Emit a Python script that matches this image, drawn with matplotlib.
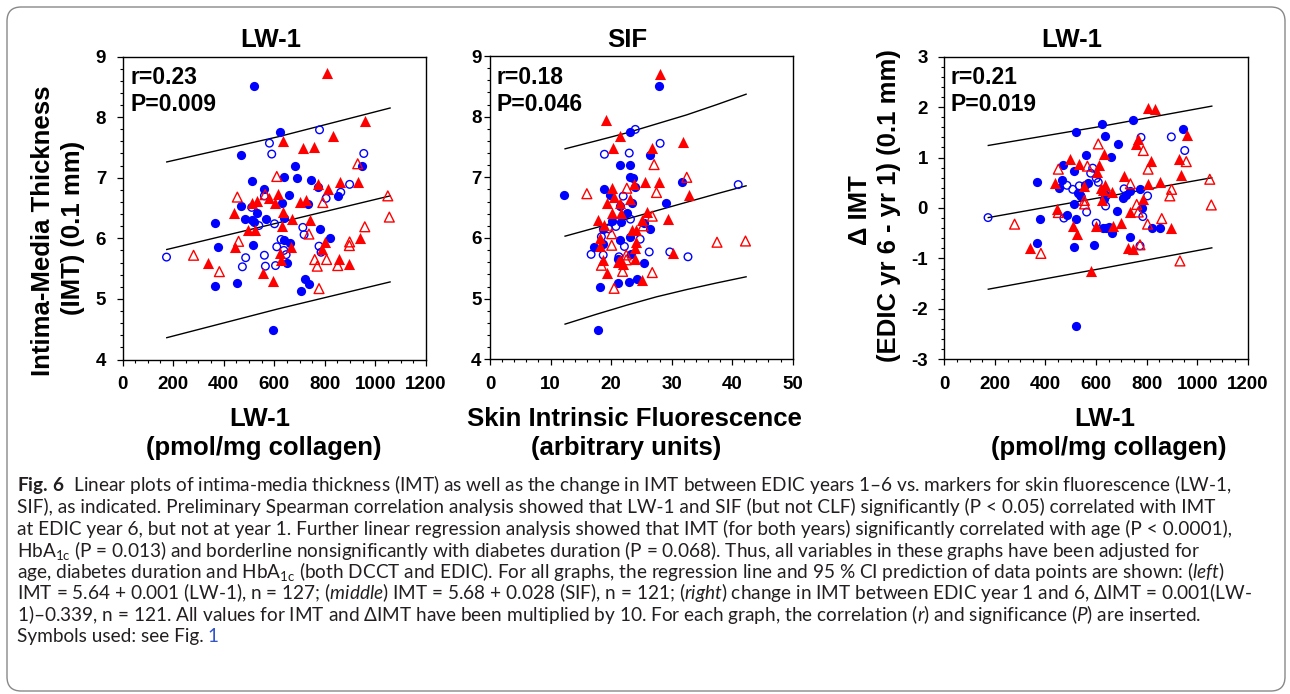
import matplotlib
matplotlib.use("Agg")
import matplotlib.pyplot as plt
from matplotlib.patches import FancyBboxPatch
from matplotlib.ticker import MultipleLocator

# ---- data ----
# panel 1: IMT vs LW-1
p1_fc_x = [520, 624, 468, 682, 638, 688, 512, 746, 560, 657, 468, 531, 632, 947, 852, 512, 520, 483,
           569, 638, 365, 377, 515, 640, 663, 782, 822, 652, 367, 454, 723, 736, 707, 594, 773, 735]
p1_fc_y = [8.52, 7.76, 7.37, 7.20, 7.01, 7.00, 6.94, 6.97, 6.81, 6.72, 6.54, 6.42, 6.59, 7.20, 6.70, 6.30,
           6.27, 6.32, 6.32, 6.33, 6.26, 5.86, 5.89, 5.98, 5.92, 6.16, 6.00, 5.59, 5.21, 5.27, 5.33, 5.25,
           5.13, 4.48, 6.85, 6.57]
p1_oc_x = [779, 581, 590, 954, 898, 863, 805, 561, 511, 539, 601, 713, 718, 627, 610, 638, 647, 777,
           785, 561, 487, 474, 565, 605, 174]
p1_oc_y = [7.79, 7.57, 7.39, 7.40, 6.89, 6.76, 6.66, 6.70, 6.51, 6.21, 6.24, 6.18, 6.06, 5.98, 5.86,
           5.80, 5.73, 5.87, 5.77, 5.72, 5.68, 5.53, 5.54, 5.55, 5.69]
p1_ft_x = [807, 959, 833, 634, 713, 756, 773, 811, 859, 930, 614, 581, 602, 635, 531, 511, 439, 631,
           671, 700, 727, 742, 498, 523, 445, 340, 557, 597, 623, 627, 668, 788, 802, 856, 897, 939]
p1_ft_y = [8.72, 7.94, 7.68, 7.60, 7.49, 7.50, 6.89, 6.82, 6.93, 6.93, 6.73, 6.67, 6.58, 6.44, 6.61,
           6.58, 6.42, 6.21, 6.32, 6.60, 6.63, 6.31, 6.14, 6.14, 5.86, 5.59, 5.43, 5.29, 5.75, 5.65,
           5.86, 5.82, 5.94, 5.66, 5.57, 6.01]
p1_ot_x = [610, 454, 564, 792, 1049, 1055, 958, 737, 459, 281, 383, 760, 770, 807, 851, 897, 898, 777, 930]
p1_ot_y = [7.02, 6.68, 6.72, 6.59, 6.70, 6.35, 6.19, 6.07, 5.95, 5.72, 5.45, 5.65, 5.54, 5.65, 5.55,
           5.88, 5.94, 5.17, 7.23]
p1_band_x = [175, 615, 1058]
p1_fit = [5.815, 6.255, 6.70]
p1_upper = [7.26, 7.675, 8.15]
p1_lower = [4.36, 4.835, 5.28]

# panel 2: IMT vs SIF
p2_fc_x = [27.9, 23.1, 21.4, 23.2, 26.5, 23.2, 23.7, 23.9, 31.7, 29.0, 12.3, 18.8, 19.9, 21.4, 23.4,
           22.6, 21.7, 20.1, 18.6, 25.4, 26.5, 23.2, 21.4, 18.6, 17.2, 21.1, 23.3, 25.5, 24.3, 21.1,
           22.9, 18.2, 17.8]
p2_fc_y = [8.51, 7.75, 7.20, 7.20, 7.36, 7.00, 6.99, 6.84, 6.93, 6.58, 6.71, 6.81, 6.71, 6.53, 6.58,
           6.41, 6.26, 6.28, 6.15, 6.25, 6.15, 6.01, 5.96, 5.90, 5.85, 5.65, 5.73, 5.58, 5.33, 5.25,
           5.27, 5.20, 4.48]
p2_oc_x = [24.0, 28.1, 18.9, 23.0, 22.0, 41.0, 20.8, 19.6, 23.2, 24.8, 22.2, 26.3, 29.7, 32.7, 16.7,
           18.7, 21.3, 18.4]
p2_oc_y = [7.79, 7.56, 7.38, 7.40, 6.69, 6.88, 6.19, 6.15, 6.31, 5.98, 5.86, 5.77, 5.77, 5.69, 5.73,
           5.72, 5.69, 6.02]
p2_ft_x = [28.1, 19.2, 21.5, 20.3, 26.8, 31.8, 25.6, 27.9, 32.9, 23.8, 20.2, 20.5, 19.3, 21.4, 23.2,
           20.1, 21.7, 25.9, 25.1, 29.4, 17.9, 18.8, 23.5, 24.1, 18.2, 18.1, 24.1, 24.0, 30.2, 18.6,
           21.5, 23.9, 19.3, 25.1, 22.0, 21.2]
p2_ft_y = [8.71, 7.94, 7.68, 7.49, 7.48, 7.59, 6.93, 6.92, 6.71, 6.89, 6.82, 6.68, 6.58, 6.58, 6.64,
           6.42, 6.41, 6.43, 6.30, 6.31, 6.29, 6.21, 6.13, 6.13, 6.00, 5.86, 5.94, 5.83, 5.75, 5.64,
           5.63, 5.65, 5.43, 5.30, 5.57, 5.61]
p2_ot_x = [27.1, 22.6, 27.5, 32.5, 16.0, 26.8, 25.3, 20.1, 20.1, 37.5, 42.2, 22.5, 22.5, 21.9, 18.4,
           26.8, 20.5]
p2_ot_y = [7.21, 6.82, 6.75, 7.00, 6.73, 6.36, 6.20, 6.07, 5.88, 5.93, 5.95, 5.72, 5.64, 5.45, 5.55,
           5.43, 5.17]
p2_band_x = [12.4, 17.5, 22.5, 27.5, 32.5, 37.5, 42.3]
p2_fit = [6.03, 6.17, 6.31, 6.45, 6.59, 6.73, 6.86]
p2_upper = [7.47, 7.60, 7.73, 7.88, 8.03, 8.20, 8.37]
p2_lower = [4.58, 4.74, 4.89, 5.03, 5.15, 5.26, 5.36]

# panel 3: delta IMT vs LW-1
p3_fc_x = [520, 624, 636, 745, 946, 687, 559, 658, 468, 512, 365, 454, 467, 568, 558, 529, 537, 514,
           640, 631, 705, 717, 735, 773, 783, 682, 484, 377, 522, 626, 640, 650, 662, 820, 852, 735,
           365, 514, 593, 520]
p3_fc_y = [1.50, 1.66, 1.43, 1.74, 1.57, 1.26, 1.06, 1.02, 0.85, 0.73, 0.51, 0.40, 0.55, 0.49, 0.45,
           0.30, 0.26, 0.07, 0.26, 0.18, 0.20, 0.26, 0.34, 0.38, 0.00, -0.05, -0.13, -0.21, -0.21,
           -0.40, -0.40, -0.38, -0.50, -0.40, -0.40, -0.58, -0.69, -0.77, -0.73, -2.33]
p3_oc_x = [173, 778, 898, 951, 587, 579, 601, 609, 485, 508, 534, 542, 563, 473, 601, 638, 711, 804, 785, 774]
p3_oc_y = [-0.19, 1.40, 1.41, 1.14, 0.79, 0.69, 0.59, 0.51, 0.45, 0.37, 0.44, 0.22, -0.08, -0.20,
           -0.30, 0.04, 0.38, 0.24, -0.17, -0.75]
p3_ft_x = [804, 833, 959, 768, 760, 496, 533, 610, 603, 632, 819, 928, 936, 711, 439, 554, 634, 620,
           625, 663, 804, 855, 786, 447, 508, 524, 599, 666, 700, 736, 725, 745, 897, 339, 579, 629]
p3_ft_y = [1.99, 1.96, 1.45, 1.36, 1.26, 0.97, 0.87, 0.85, 0.72, 1.08, 0.93, 0.98, 0.66, 0.64, 0.50,
           0.44, 0.46, 0.39, 0.16, 0.31, 0.47, 0.52, 0.17, -0.02, -0.36, -0.52, -0.36, -0.36, -0.30,
           -0.08, -0.80, -0.82, -0.40, -0.80, -1.25, 0.35]
p3_ot_x = [609, 787, 806, 451, 566, 736, 554, 555, 761, 767, 804, 860, 899, 892, 957, 1050, 1056, 278,
           382, 451, 774, 932, 640]
p3_ot_y = [1.27, 1.14, 0.77, 0.77, 0.83, 0.48, 0.15, 0.08, 0.07, -0.08, -0.32, -0.21, 0.37, 0.24,
           0.92, 0.57, 0.06, -0.32, -0.90, -0.09, -0.73, -1.05, 0.36]
p3_band_x = [174, 616, 1058]
p3_fit = [-0.19, 0.205, 0.60]
p3_upper = [1.24, 1.615, 2.02]
p3_lower = [-1.61, -1.205, -0.79]

caption_lines = [
    r"$\mathbf{Fig.\,6}$  Linear plots of intima-media thickness (IMT) as well as the change in IMT between EDIC years 1–6 vs. markers for skin fluorescence (LW-1,",
    "SIF), as indicated. Preliminary Spearman correlation analysis showed that LW-1 and SIF (but not CLF) significantly (P < 0.05) correlated with IMT",
    "at EDIC year 6, but not at year 1. Further linear regression analysis showed that IMT (for both years) significantly correlated with age (P < 0.0001),",
    r"HbA$_{\mathrm{1c}}$ (P = 0.013) and borderline nonsignificantly with diabetes duration (P = 0.068). Thus, all variables in these graphs have been adjusted for",
    r"age, diabetes duration and HbA$_{\mathrm{1c}}$ (both DCCT and EDIC). For all graphs, the regression line and 95 % CI prediction of data points are shown: ($\mathit{left}$)",
    r"IMT = 5.64 + 0.001 (LW-1), n = 127; ($\mathit{middle}$) IMT = 5.68 + 0.028 (SIF), n = 121; ($\mathit{right}$) change in IMT between EDIC year 1 and 6, ΔIMT = 0.001(LW-",
    r"1)–0.339, n = 121. All values for IMT and ΔIMT have been multiplied by 10. For each graph, the correlation ($\mathit{r}$) and significance ($\mathit{P}$) are inserted.",
    "Symbols used: see Fig.",
]

plt.rcParams["font.family"] = ["Liberation Sans", "DejaVu Sans"]
plt.rcParams["font.weight"] = "bold"
plt.rcParams["axes.unicode_minus"] = False
plt.rcParams["mathtext.fontset"] = "custom"
plt.rcParams["mathtext.rm"] = "Lato:weight=normal"
plt.rcParams["mathtext.it"] = "Lato:style=italic:weight=normal"
plt.rcParams["mathtext.bf"] = "Lato:weight=bold"

W, H = 1290, 694
fig = plt.figure(figsize=(W / 100, H / 100), dpi=100)


def fx(px):
    return px / W


def fy(py):
    return 1 - py / H


def add_panel(left, right, top, bottom):
    return fig.add_axes([fx(left), fy(bottom), (right - left) / W, (bottom - top) / H])


BLUE = "#0000ff"
RED = "#ff0000"


def draw(ax, fc, oc, ft, ot, bx, fit, up, lo):
    ax.scatter(*oc, s=30, facecolors="none", edgecolors=BLUE, linewidths=1.0, zorder=3)
    ax.scatter(*fc, s=44, color=BLUE, linewidths=0, zorder=3)
    ax.scatter(*ot, s=50, marker="^", facecolors="none", edgecolors=RED, linewidths=1.0, zorder=4)
    ax.scatter(*ft, s=64, marker="^", color=RED, linewidths=0, zorder=4)
    for yy in (fit, up, lo):
        ax.plot(bx, yy, color="black", lw=1.0, zorder=2)
    for s in ax.spines.values():
        s.set_linewidth(1.0)
    ax.tick_params(which="major", direction="out", length=4.2, width=0.9, labelsize=13.5, pad=7.5)
    ax.tick_params(which="minor", direction="out", length=2.4, width=0.8)


ax1 = add_panel(122.5, 426, 56.5, 359.5)
draw(ax1, (p1_fc_x, p1_fc_y), (p1_oc_x, p1_oc_y), (p1_ft_x, p1_ft_y), (p1_ot_x, p1_ot_y),
     p1_band_x, p1_fit, p1_upper, p1_lower)
ax1.set_xlim(0, 1200)
ax1.set_ylim(4, 9)
ax1.xaxis.set_major_locator(MultipleLocator(200))
ax1.xaxis.set_minor_locator(MultipleLocator(50))
ax1.yaxis.set_major_locator(MultipleLocator(1))
ax1.yaxis.set_minor_locator(MultipleLocator(0.2))

ax2 = add_panel(490, 792.7, 56, 359.3)
draw(ax2, (p2_fc_x, p2_fc_y), (p2_oc_x, p2_oc_y), (p2_ft_x, p2_ft_y), (p2_ot_x, p2_ot_y),
     p2_band_x, p2_fit, p2_upper, p2_lower)
ax2.set_xlim(0, 50)
ax2.set_ylim(4, 9)
ax2.xaxis.set_major_locator(MultipleLocator(10))
ax2.xaxis.set_minor_locator(MultipleLocator(2))
ax2.yaxis.set_major_locator(MultipleLocator(1))
ax2.yaxis.set_minor_locator(MultipleLocator(0.2))
ax2.tick_params(axis="y", which="major", pad=2)

ax3 = add_panel(944.3, 1247.7, 56.7, 359.3)
draw(ax3, (p3_fc_x, p3_fc_y), (p3_oc_x, p3_oc_y), (p3_ft_x, p3_ft_y), (p3_ot_x, p3_ot_y),
     p3_band_x, p3_fit, p3_upper, p3_lower)
ax3.set_xlim(0, 1200)
ax3.set_ylim(-3, 3)
ax3.xaxis.set_major_locator(MultipleLocator(200))
ax3.xaxis.set_minor_locator(MultipleLocator(50))
ax3.yaxis.set_major_locator(MultipleLocator(1))
ax3.yaxis.set_minor_locator(MultipleLocator(0.2))

# titles, stats, axis labels (placed in figure pixels)
big = dict(fontsize=18.5, fontweight="bold", ha="center", va="baseline")
fig.text(fx(271), fy(47), "LW-1", **big)
fig.text(fx(627), fy(47), "SIF", **big)
fig.text(fx(1072), fy(47), "LW-1", **big)

stat = dict(fontsize=16.5, fontweight="bold", ha="left", va="baseline")
for x0, r_txt, p_txt in [(130, "r=0.23", "P=0.009"), (496, "r=0.18", "P=0.046"), (950, "r=0.21", "P=0.019")]:
    fig.text(fx(x0), fy(83.5), r_txt, **stat)
    fig.text(fx(x0), fy(111), p_txt, **stat)

fig.text(fx(260), fy(426), "LW-1", **big)
fig.text(fx(264), fy(455), "(pmol/mg collagen)", **big)
fig.text(fx(634), fy(426), "Skin Intrinsic Fluorescence", **big)
fig.text(fx(626), fy(455), "(arbitrary units)", **big)
fig.text(fx(1105), fy(426), "LW-1", **big)
fig.text(fx(1109), fy(455), "(pmol/mg collagen)", **big)

rot = dict(fontsize=18.5, fontweight="bold", ha="center", va="baseline", rotation=90, rotation_mode="anchor")
fig.text(fx(50), fy(231), "Intima-Media Thickness", **rot)
fig.text(fx(80), fy(228), "(IMT) (0.1 mm)", **rot)
fig.text(fx(867), fy(210), "Δ IMT", **rot)
fig.text(fx(896), fy(206), "(EDIC yr 6 - yr 1) (0.1 mm)", **rot)

# caption
cap = dict(fontsize=13.7, fontweight="normal", family=["Lato", "DejaVu Sans"], color="#231f20",
           ha="left", va="baseline")
line_y = [491, 513, 535, 557, 578, 599, 621, 642]
last = None
for txt, yy in zip(caption_lines, line_y):
    last = fig.text(fx(17), fy(yy), txt, **cap)
renderer = fig.canvas.get_renderer()
bb = last.get_window_extent(renderer=renderer)
fig.text(fx(bb.x1 + 4), fy(line_y[-1]), "1", **dict(cap, color="#3355cc"))

# rounded frame around the whole figure
frame = FancyBboxPatch((fx(7), fy(691)), fx(1285) - fx(7), fy(7) - fy(691),
                       boxstyle="round,pad=0,rounding_size=0.011", mutation_aspect=W / H,
                       transform=fig.transFigure, facecolor="none", edgecolor="#888888", lw=1.0)
fig.patches.append(frame)

fig.savefig("out.png", dpi=100)
